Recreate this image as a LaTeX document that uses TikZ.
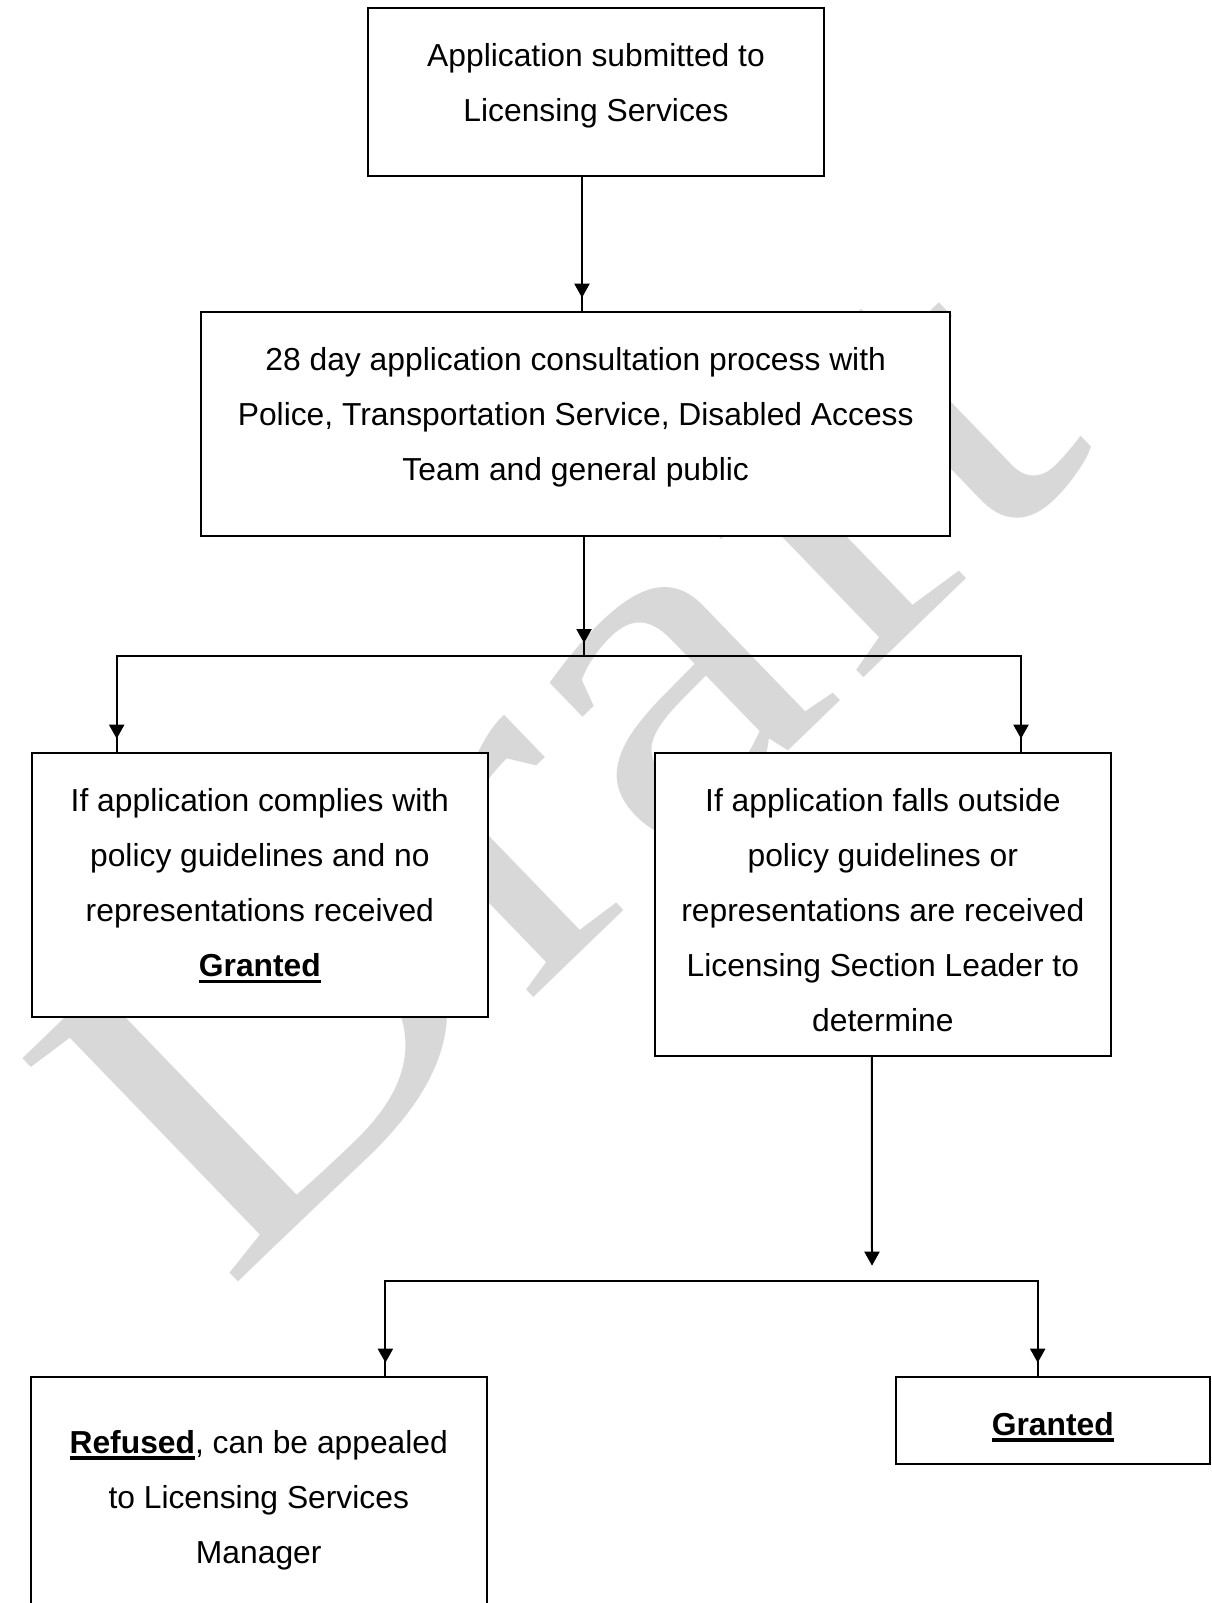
\documentclass[tikz,border=0pt]{standalone}
\usepackage{fontspec}
\setmainfont{Liberation Sans}
\newfontfamily\wmfont{Liberation Serif}
\usepackage{graphicx}
\usetikzlibrary{arrows.meta,decorations.markings,calc}
\definecolor{wmgray}{RGB}{216,216,216}
\newsavebox\ulbox
\newcommand\ulbold[1]{\sbox\ulbox{\bfseries #1}\rlap{\rule[-6.5pt]{\wd\ulbox}{3.5pt}}\usebox\ulbox}
\newcommand\lstrut{\rule{0pt}{25pt}}
\begin{document}
\begin{tikzpicture}[x=1pt,y=-1pt,
  box/.style={draw=black, line width=2pt, fill=white, inner sep=0pt, rectangle},
  txt/.style={align=center, anchor=north, inner sep=0pt, font=\fontsize{31.8pt}{55pt}\selectfont},
  tipshape/.style={-{Triangle[width=15pt,length=14pt]}},
  conn/.style={line width=2pt},
  arr/.style={conn, postaction={decorate},
    decoration={markings, mark=at position -13pt with {\arrow{Triangle[width=15pt,length=14pt]}}}}]
\useasboundingbox (0,0) rectangle (1211,1603);
\clip (0,0) rectangle (1211,1603);
\fill[white] (0,0) rectangle (1211,1603);
% watermark
\node[rotate=44, anchor=base west, inner sep=0pt, text=wmgray, font=\wmfont\fontsize{474pt}{474pt}\selectfont] (wm) at (226,1294) {\scalebox{1.214}[1]{Draft}};
% boxes
\node[box, minimum width=456.6pt, minimum height=167.7pt] (b1) at (596,92.15) {};
\node[box, minimum width=748.6pt, minimum height=224.3pt] (b2) at (575.7,423.85) {};
\node[box, minimum width=456.3pt, minimum height=264pt] (b3) at (259.85,884.7) {};
\node[box, minimum width=455.7pt, minimum height=303.3pt] (b4) at (882.85,904.35) {};
\node[box, minimum width=456.5pt, minimum height=300pt] (b5) at (258.75,1526.7) {};
\node[box, minimum width=313.5pt, minimum height=87.3pt] (b6) at (1052.75,1420.35) {};
% texts
\node[txt] (t1) at (596,41.7) {\lstrut Application submitted to\\Licensing Services};
\node[txt] (t2) at (575.7,345.5) {\lstrut 28 day application consultation process with\\Police, Transportation Service, Disabled Access\\Team and general public};
\node[txt] (t3) at (259.85,786.7) {\lstrut If application complies with\\policy guidelines and no\\representations received\\\ulbold{Granted}};
\node[txt] (t4) at (882.85,786.7) {\lstrut If application falls outside\\policy guidelines or\\representations are received\\Licensing Section Leader to\\determine};
\node[txt] (t5) at (258.75,1428) {\lstrut\ulbold{Refused}, can be appealed\\to Licensing Services\\Manager};
\node[txt] (t6) at (1052.75,1410) {\lstrut\ulbold{Granted}};
% connectors
\coordinate (j1) at (584,656);
\coordinate (j2tip) at (872,1265.7);
\coordinate (j2) at (872,1280.7);
\draw[arr] ([xshift=-14pt]b1.south) -- ([xshift=-14pt]b1.south |- b2.north);
\draw[arr] ([xshift=8.3pt]b2.south) -- (j1);
\draw[arr] (j1) -| ([xshift=86pt]b3.north west);
\draw[arr] (j1) -| ([xshift=-90.7pt]b4.north east);
\draw[conn, tipshape] ([xshift=-11pt]b4.south) -- (j2tip);
\draw[arr] (j2) -| ([xshift=355.9pt]b5.north west);
\draw[arr] (j2) -| ([xshift=142.7pt]b6.north west);
\end{tikzpicture}
\end{document}
